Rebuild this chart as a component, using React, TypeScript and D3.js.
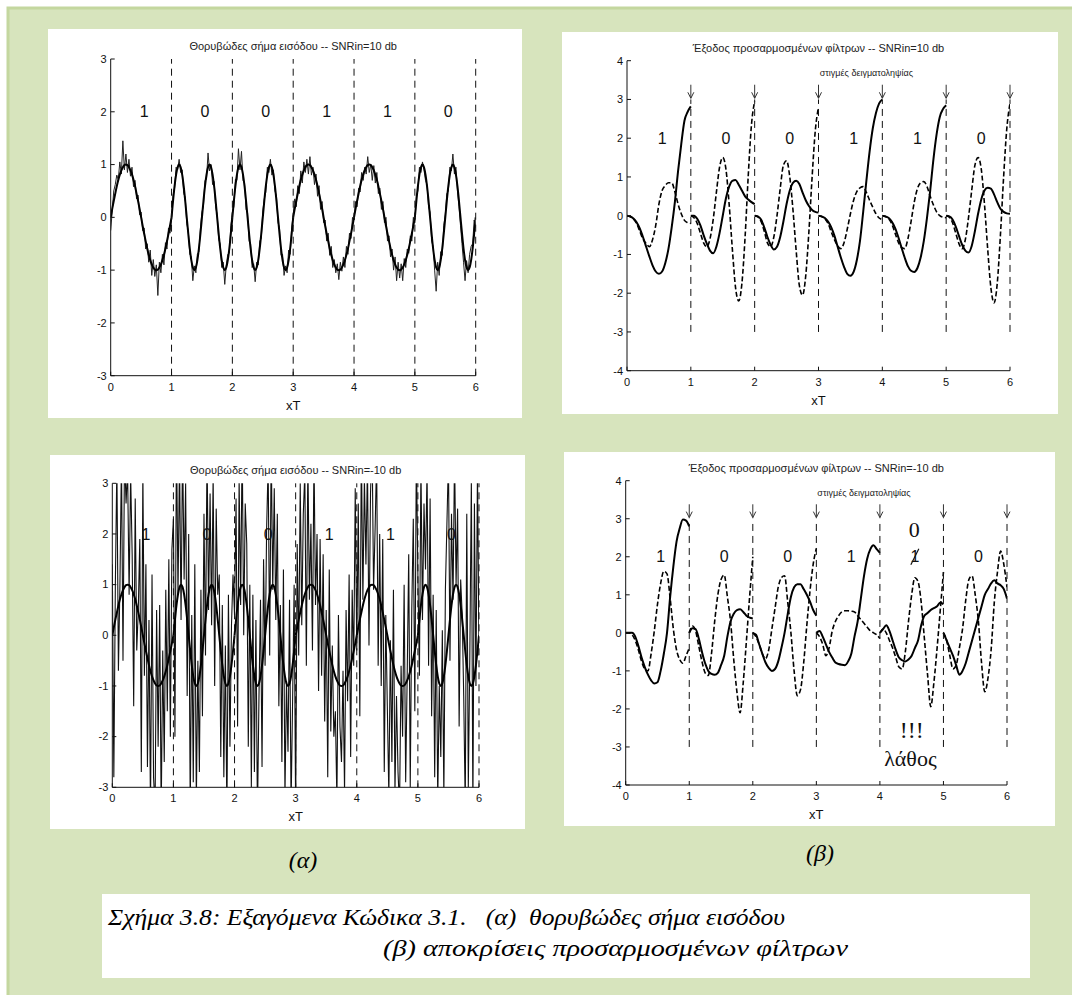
import React from 'react'
import * as d3 from 'd3'

// transmitted bits and axis ticks
const bits = [1, 0, 0, 1, 1, 0]
const xTicks = [0, 1, 2, 3, 4, 5, 6]
const ticks3 = [-3, -2, -1, 0, 1, 2, 3]
const ticks4 = [-4, -3, -2, -1, 0, 1, 2, 3, 4]
const boundaries = [1, 2, 3, 4, 5, 6]

// one clean symbol, 40 samples per T (plus end point)
const symbolOne = [0, .16, .31, .45, .59, .71, .81, .89, .95, .99, 1, .99, .95, .89, .81, .71, .59, .45, .31, .16,
  0, -.16, -.31, -.45, -.59, -.71, -.81, -.89, -.95, -.99, -1, -.99, -.95, -.89, -.81, -.71, -.59, -.45, -.31, -.16, 0]
const symbolZero = [0, .31, .59, .81, .95, 1, .95, .81, .59, .31, 0, -.31, -.59, -.81, -.95, -1, -.95, -.81, -.59, -.31,
  0, .31, .59, .81, .95, 1, .95, .81, .59, .31, 0, -.31, -.59, -.81, -.95, -1, -.95, -.81, -.59, -.31, 0]

// noisy input, 40 samples per T
const noisy10 = [
  -0.25, 0.12, 0.5, 0.62, 0.8, 0.72, 1.05, 0.82, 1.45, 0.9, 1.2, 0.85, 1.1, 0.78, 0.95, 0.58, 0.7, 0.35, 0.42, 0.05, 0.1, -0.25, -0.2, -0.6, -0.5, -0.85, -0.62, -1.1, -0.8, -1.12, -0.9, -1.48, -0.85, -1.05, -0.7, -0.9, -0.48, -0.6, -0.2, -0.3,
  -0.05, 0.42, 0.55, 0.95, 0.9, 1.1, 0.85, 0.9, 0.45, 0.38, -0.12, -0.25, -0.7, -0.75, -1.2, -0.92, -1.05, -0.7, -0.65, -0.2, 0.1, 0.22, 0.7, 0.72, 1.22, 0.88, 1.0, 0.62, 0.68, 0.2, 0.05, -0.42, -0.5, -0.95, -0.85, -1.27, -0.9, -0.7, -0.68, -0.15,
  0.1, 0.2, 0.72, 0.7, 1.3, 0.9, 1.25, 0.7, 0.65, 0.15, 0.08, -0.45, -0.5, -0.95, -0.88, -1.22, -0.85, -0.9, -0.45, -0.4, 0.12, 0.35, 0.48, 0.95, 0.85, 1.1, 0.8, 0.9, 0.5, 0.4, -0.1, -0.2, -0.72, -0.7, -1.1, -0.92, -1.05, -0.62, -0.7, -0.2,
  0.05, 0.35, 0.2, 0.6, 0.45, 0.88, 0.65, 1.05, 0.85, 1.1, 0.82, 1.15, 0.8, 0.95, 0.62, 0.82, 0.4, 0.6, 0.15, 0.3, -0.1, -0.05, -0.45, -0.3, -0.72, -0.55, -0.95, -0.8, -1.05, -0.88, -1.18, -0.85, -1.02, -0.75, -0.95, -0.55, -0.7, -0.3, -0.4, 0.0,
  -0.05, 0.3, 0.2, 0.55, 0.48, 0.85, 0.7, 0.95, 0.82, 1.15, 0.85, 1.0, 0.7, 0.98, 0.65, 0.85, 0.45, 0.55, 0.15, 0.3, -0.1, 0.0, -0.45, -0.35, -0.75, -0.6, -1.0, -0.75, -1.2, -0.85, -1.15, -0.88, -1.2, -0.78, -0.95, -0.6, -0.68, -0.35, -0.45, 0.0,
  -0.1, 0.42, 0.5, 0.95, 0.85, 1.05, 0.9, 0.7, 0.62, 0.2, 0.1, -0.45, -0.55, -1.0, -1.4, -0.85, -1.1, -0.65, -0.72, -0.15, 0.05, 0.45, 0.5, 0.95, 0.88, 1.2, 0.82, 0.95, 0.5, 0.2, -0.15, -0.5, -0.85, -1.2, -0.82, -1.05, -0.7, -0.55, -0.5, -0.05, -0.2,
]
const noisyM10 = [
  1.4, -2.8, 1.0, 3.4, -0.7, 1.0, 3.5, -0.5, 3.6, 2.6, 3.3, 0.8, 3.2, 1.6, -1.4, 2.7, -0.3, 0.5, 1.9, -2.7, 3.3, -0.8, 1.4, -2.6, 0.3, -3.5, 1.2, -2.8, -3.4, 0.5, -2.2, 0.6, -3.6, -0.3, -2.5, 0.9, -1.5, 1.5, -2.0, 1.7,
  2.3, -2.0, 4.0, 0.8, 3.5, 0.3, 3.8, 1.1, 3.0, -1.2, 2.0, -3.5, 0.4, -2.9, 1.4, -3.3, -0.5, -2.7, 0.9, -1.6, 2.4, -0.4, 3.7, 0.5, 2.8, 0.2, 3.2, -1.0, 2.5, 0.8, 1.2, -2.4, 0.6, -2.8, -0.2, -3.6, 0.8, -2.2, 0.2, 1.2,
  0.4, 2.7, -1.8, 3.1, 0.6, 3.9, 0.0, 2.6, 1.8, -2.2, 1.0, -3.0, 0.8, -2.7, 0.3, -3.6, -1.2, 0.7, -2.6, 1.5, -0.6, 2.1, 3.4, -0.4, 3.8, 0.9, 2.9, 0.3, 2.4, -1.4, 0.6, -2.5, 1.3, -3.2, -0.9, -2.3, 0.7, -3.4, -1.3, 1.0,
  -3.5, 1.8, -0.4, 3.0, 0.2, 2.4, 3.2, -0.6, 3.5, 0.7, 2.2, -0.3, 3.6, 0.6, 2.0, -1.1, 1.9, -0.8, 1.6, -1.7, 0.5, -2.8, 1.3, -1.9, -0.2, -2.0, -1.5, -3.3, 0.4, -1.8, -2.5, -0.7, -3.1, 0.5, -1.3, 1.2, -2.4, 0.9, -0.6, 2.9,
  -0.3, 2.6, -1.6, 3.8, 0.7, 3.1, 1.4, 3.4, -0.2, 2.8, 3.9, 0.9, 2.1, 3.5, -0.6, 2.0, -1.0, 1.9, -2.7, 0.4, -1.4, -3.2, -0.1, -2.5, 0.9, -3.1, -1.2, -2.7, -3.4, -0.6, -2.0, 1.0, -2.9, -0.8, 1.6, -3.0, 0.5, 2.3, -1.5, 3.7,
  1.2, -0.8, 3.4, 0.3, 2.6, 1.3, 3.3, -0.6, 2.7, -1.6, 0.8, -2.8, 0.5, -3.3, -1.0, -2.4, 0.1, -3.2, 0.9, 2.2, 3.5, -0.5, 2.4, 0.7, 3.6, 1.0, 2.5, -1.8, 1.1, 0.4, -1.2, -3.4, 2.4, -3.0, -0.4, 3.1, -3.5, 2.6, -1.0, 3.3, -0.4,
]

// matched filter outputs, one row per symbol, 20 samples per T (plus end point)
const mf10One = [
  [0, -0.02, -0.07, -0.17, -0.33, -0.55, -0.8, -1.05, -1.28, -1.44, -1.5, -1.44, -1.22, -0.85, -0.3, 0.35, 1.15, 1.85, 2.45, 2.68, 2.82],
  [0, 0, -0.08, -0.25, -0.5, -0.72, -0.9, -0.97, -0.8, -0.45, 0, 0.45, 0.75, 0.9, 0.92, 0.8, 0.65, 0.5, 0.42, 0.35, 0.3],
  [0, -0.02, -0.1, -0.3, -0.55, -0.75, -0.87, -0.8, -0.55, -0.15, 0.3, 0.65, 0.85, 0.9, 0.82, 0.6, 0.4, 0.25, 0.15, 0.1, 0.08],
  [0, -0.02, -0.06, -0.15, -0.3, -0.52, -0.8, -1.08, -1.32, -1.5, -1.55, -1.45, -1.15, -0.65, 0.1, 0.9, 1.65, 2.25, 2.65, 2.9, 3.0],
  [0, -0.02, -0.06, -0.16, -0.32, -0.55, -0.82, -1.08, -1.3, -1.42, -1.45, -1.35, -1.08, -0.65, -0.05, 0.65, 1.45, 2.1, 2.55, 2.75, 2.85],
  [0, -0.02, -0.1, -0.28, -0.52, -0.75, -0.9, -0.95, -0.78, -0.4, 0.05, 0.42, 0.65, 0.72, 0.7, 0.55, 0.35, 0.18, 0.1, 0.06, 0.05],
]
const mf10Zero = [
  [0, -0.02, -0.08, -0.2, -0.4, -0.6, -0.72, -0.8, -0.62, -0.25, 0.3, 0.65, 0.78, 0.85, 0.85, 0.62, 0.3, 0.05, -0.12, -0.18, -0.2],
  [0, -0.05, -0.2, -0.45, -0.7, -0.8, -0.6, -0.1, 0.6, 1.25, 1.5, 1.2, 0.3, -0.85, -1.85, -2.2, -1.75, -0.55, 1.05, 2.35, 2.95],
  [0, -0.03, -0.15, -0.4, -0.7, -0.8, -0.55, 0, 0.7, 1.3, 1.42, 1.0, 0.15, -0.9, -1.8, -2.05, -1.55, -0.4, 1.0, 2.2, 2.8],
  [0, -0.02, -0.08, -0.2, -0.42, -0.62, -0.78, -0.85, -0.7, -0.35, 0.05, 0.4, 0.62, 0.72, 0.75, 0.6, 0.4, 0.22, 0.05, -0.06, -0.1],
  [0, -0.02, -0.08, -0.22, -0.45, -0.68, -0.82, -0.85, -0.6, -0.15, 0.35, 0.7, 0.85, 0.88, 0.75, 0.5, 0.28, 0.1, 0, -0.04, -0.05],
  [0, -0.04, -0.18, -0.45, -0.72, -0.85, -0.62, -0.05, 0.65, 1.3, 1.5, 1.2, 0.3, -0.85, -1.85, -2.25, -1.75, -0.5, 1.0, 2.25, 2.9],
]
const mfM10One = [
  [0, 0, 0, -0.1, -0.35, -0.65, -0.9, -1.1, -1.25, -1.33, -1.3, -1.0, -0.55, 0, 0.95, 1.75, 2.4, 2.75, 2.98, 2.95, 2.8],
  [0, 0.12, 0.1, -0.15, -0.5, -0.8, -1.0, -1.08, -1.1, -1.05, -0.85, -0.6, -0.1, 0.3, 0.5, 0.6, 0.62, 0.55, 0.45, 0.4, 0.38],
  [0, -0.05, -0.3, -0.55, -0.78, -0.92, -1.0, -0.95, -0.75, -0.4, 0, 0.5, 0.95, 1.2, 1.28, 1.28, 1.15, 1.0, 0.82, 0.6, 0.45],
  [0, 0.05, -0.1, -0.3, -0.5, -0.65, -0.78, -0.82, -0.84, -0.85, -0.75, -0.55, -0.1, 0.3, 0.9, 1.5, 1.95, 2.2, 2.3, 2.2, 2.1],
  [0, 0.1, 0.2, 0.05, -0.2, -0.45, -0.65, -0.72, -0.75, -0.7, -0.6, -0.4, -0.2, 0.2, 0.45, 0.52, 0.6, 0.65, 0.7, 0.8, 0.75],
  [0, -0.2, -0.4, -0.6, -0.85, -1.1, -1.0, -0.8, -0.5, -0.2, 0.1, 0.4, 0.7, 1.0, 1.15, 1.3, 1.38, 1.3, 1.25, 1.15, 0.9],
]
const mfM10Zero = [
  [0, 0, -0.05, -0.2, -0.45, -0.75, -0.95, -1.0, -0.55, 0.05, 0.75, 1.3, 1.62, 1.55, 0.9, 0.1, -0.45, -0.7, -0.8, -0.6, -0.4],
  [0, 0.18, 0.05, -0.35, -0.75, -1.05, -1.12, -0.55, 0.3, 1.0, 1.4, 1.52, 0.95, 0.3, -0.7, -1.55, -2.1, -1.3, -0.2, 0.95, 2.0],
  [0, -0.1, -0.3, -0.55, -0.68, -0.45, 0.1, 0.65, 1.2, 1.45, 1.5, 0.8, 0, -1.0, -1.65, -1.5, -0.8, 0.2, 1.1, 1.8, 2.22],
  [0, -0.1, -0.3, -0.6, -0.4, 0.05, 0.3, 0.45, 0.55, 0.58, 0.58, 0.57, 0.55, 0.45, 0.35, 0.25, 0.15, 0.05, 0, -0.05, -0.15],
  [0, 0.1, 0, -0.2, -0.4, -0.65, -0.9, -0.95, -0.5, 0.3, 1.0, 1.45, 1.35, 0.8, -0.15, -1.1, -1.94, -1.3, -0.4, 0.6, 1.6],
  [0, -0.2, -0.6, -0.95, -0.85, -0.4, 0.1, 0.85, 1.4, 1.5, 1.0, 0.3, -0.8, -1.55, -1.2, -0.45, 0.8, 1.6, 2.15, 1.8, 1.2],
]

const SANS = "'Liberation Sans', Arial, sans-serif"
const SERIF = "'Liberation Serif', 'Times New Roman', serif"
const GREEN = '#d7e4bd'

type Layout = { box: number[]; left: number; right: number; top: number; bottom: number; yMax: number }
const L1: Layout = { box: [48, 29, 474, 389], left: 110.7, right: 475.7, top: 59, bottom: 375.7, yMax: 3 }
const L2: Layout = { box: [562, 32, 496, 382], left: 627, right: 1010, top: 60.7, bottom: 370.7, yMax: 4 }
const L3: Layout = { box: [50, 455, 475, 374], left: 112.3, right: 479, top: 483.3, bottom: 787.3, yMax: 3 }
const L4: Layout = { box: [564, 452, 491, 374], left: 625.7, right: 1007, top: 480.7, bottom: 785, yMax: 4 }

type Sc = d3.ScaleLinear<number, number>
type Pt = [number, number]

const toPoints = (vals: number[], start: number, rate: number): Pt[] =>
  vals.map((v, k) => [start + k / rate, v])

const linePath = (x: Sc, y: Sc, pts: Pt[], curve: d3.CurveFactory = d3.curveLinear) =>
  d3.line<Pt>().x(d => x(d[0])).y(d => y(d[1])).curve(curve)(pts) || ''

function Axes({ L, id, title, yTicks, data, overlay }: {
  L: Layout; id: string; title: string; yTicks: number[]
  data: (x: Sc, y: Sc) => React.ReactNode; overlay: (x: Sc, y: Sc) => React.ReactNode
}) {
  const x = d3.scaleLinear().domain([0, 6]).range([L.left, L.right])
  const y = d3.scaleLinear().domain([-L.yMax, L.yMax]).range([L.bottom, L.top])
  const mid = (L.left + L.right) / 2
  return (
    <g fontFamily={SANS}>
      <rect x={L.box[0]} y={L.box[1]} width={L.box[2]} height={L.box[3]} fill="#fff" />
      <clipPath id={id}>
        <rect x={L.left} y={L.top} width={L.right - L.left} height={L.bottom - L.top} />
      </clipPath>
      <text x={mid} y={L.top - 9} textAnchor="middle" fontSize={11} fill="#222" style={{ whiteSpace: 'pre' }}>{title}</text>
      <g clipPath={`url(#${id})`}>{data(x, y)}</g>
      {overlay(x, y)}
      <path d={`M${L.left},${L.top}V${L.bottom}H${L.right}`} fill="none" stroke="#111" strokeWidth={1} />
      {yTicks.map(t => (
        <g key={'y' + t}>
          <line x1={L.left} x2={L.left + 4} y1={y(t)} y2={y(t)} stroke="#111" />
          <text x={L.left - 4} y={y(t)} dy="0.35em" textAnchor="end" fontSize={11} fill="#111">{t}</text>
        </g>
      ))}
      {xTicks.map(t => (
        <g key={'x' + t}>
          <line x1={x(t)} x2={x(t)} y1={L.bottom} y2={L.bottom - 4} stroke="#111" />
          <text x={x(t)} y={L.bottom + 15} textAnchor="middle" fontSize={11} fill="#111">{t}</text>
        </g>
      ))}
      <text x={mid} y={L.bottom + 34} textAnchor="middle" fontSize={13} fill="#111">xT</text>
    </g>
  )
}

const bitText = (x: Sc, y: Sc, skip?: number) =>
  bits.map((b, i) => i === skip ? null : (
    <text key={'b' + i} x={x(i + 0.55)} y={y(2)} dy="0.35em" textAnchor="middle" fontSize={16} fill="#111">{b}</text>
  ))

const boundaryLines = (x: Sc, y: Sc, top: number) =>
  boundaries.map(b => (
    <line key={'v' + b} x1={x(b)} x2={x(b)} y1={y(-3)} y2={y(top)} stroke="#111" strokeWidth={1} strokeDasharray="7,5" />
  ))

const cleanPaths = (x: Sc, y: Sc) =>
  bits.map((b, i) => (
    <path key={'c' + i} d={linePath(x, y, toPoints(b ? symbolOne : symbolZero, i, 40), d3.curveMonotoneX)}
      fill="none" stroke="#000" strokeWidth={2} />
  ))

const arrows = (x: Sc, y: Sc) =>
  boundaries.map(b => {
    const tip = y(3.03)
    return (
      <path key={'a' + b} d={`M${x(b)},${y(3.38)}V${tip}M${x(b) - 3},${tip - 6}L${x(b)},${tip}L${x(b) + 3},${tip - 6}`}
        fill="none" stroke="#333" strokeWidth={1} />
    )
  })

function filterPaths(x: Sc, y: Sc, one: number[][], zero: number[][]) {
  return bits.map((_, i) => (
    <g key={'f' + i}>
      <path d={linePath(x, y, toPoints(zero[i], i, 20), d3.curveMonotoneX)} fill="none" stroke="#000"
        strokeWidth={1.6} strokeDasharray="5,2.5" />
      <path d={linePath(x, y, toPoints(one[i], i, 20), d3.curveMonotoneX)} fill="none" stroke="#000" strokeWidth={2} />
    </g>
  ))
}

export default function App() {
  return (
    <svg width={1072} height={995} style={{ position: 'absolute', left: 0, top: 0 }}>
      <rect width={1072} height={995} fill="#fff" />
      <rect x={8} y={8} width={1070} height={995} fill={GREEN} stroke="#c4d79f" strokeWidth={3} />

      <Axes L={L1} id="c1" title="Θορυβώδες σήμα εισόδου -- SNRin=10 db" yTicks={ticks3}
        data={(x, y) => (
          <g>
            <path d={linePath(x, y, toPoints(noisy10, 0, 40))} fill="none" stroke="#222" strokeWidth={1} />
            {cleanPaths(x, y)}
          </g>
        )}
        overlay={(x, y) => <g>{boundaryLines(x, y, 3)}{bitText(x, y)}</g>} />

      <Axes L={L3} id="c3" title="Θορυβώδες σήμα εισόδου -- SNRin=-10 db" yTicks={ticks3}
        data={(x, y) => (
          <g>
            {bitText(x, y)}
            <path d={linePath(x, y, toPoints(noisyM10, 0, 40))} fill="none" stroke="#111" strokeWidth={1.1} />
            {cleanPaths(x, y)}
          </g>
        )}
        overlay={(x, y) => <g>{boundaryLines(x, y, 3)}</g>} />

      <Axes L={L2} id="c2" title="Έξοδος προσαρμοσμένων φίλτρων -- SNRin=10 db" yTicks={ticks4}
        data={(x, y) => filterPaths(x, y, mf10One, mf10Zero)}
        overlay={(x, y) => (
          <g>
            {boundaryLines(x, y, 3)}
            {arrows(x, y)}
            {bitText(x, y)}
            <text x={x(3.75)} y={y(3.6)} textAnchor="middle" fontSize={9} fill="#222">στιγμές δειγματοληψίας</text>
          </g>
        )} />

      <Axes L={L4} id="c4" title="Έξοδος προσαρμοσμένων φίλτρων -- SNRin=-10 db" yTicks={ticks4}
        data={(x, y) => filterPaths(x, y, mfM10One, mfM10Zero)}
        overlay={(x, y) => (
          <g>
            {boundaryLines(x, y, 3)}
            {arrows(x, y)}
            {bitText(x, y)}
            <text x={x(3.75)} y={y(3.6)} textAnchor="middle" fontSize={9} fill="#222">στιγμές δειγματοληψίας</text>
            <line x1={x(4.55) - 4} y1={y(2) + 8} x2={x(4.55) + 4} y2={y(2) - 8} stroke="#111" strokeWidth={1.2} />
            <text x={x(4.54)} y={y(2.73)} dy="0.35em" textAnchor="middle" fontSize={22} fontFamily={SERIF} fill="#111">0</text>
            <text x={x(4.5)} y={y(-2.55)} dy="0.35em" textAnchor="middle" fontSize={24} fontFamily={SERIF} fill="#111">!!!</text>
            <text x={x(4.48)} y={y(-3.29)} dy="0.35em" textAnchor="middle" fontSize={22} fontFamily={SERIF} fill="#111">λάθος</text>
          </g>
        )} />

      <g fontFamily={SERIF} fontStyle="italic" fill="#000">
        <text x={303} y={868} textAnchor="middle" fontSize={24}>(α)</text>
        <text x={820} y={861} textAnchor="middle" fontSize={24}>(β)</text>
        <rect x={102} y={894} width={928} height={84} fill="#fff" />
        <text x={108} y={925} fontSize={23} textLength={677} lengthAdjust="spacingAndGlyphs"
          style={{ whiteSpace: 'pre' }}>Σχήμα 3.8: Εξαγόμενα Κώδικα 3.1.   (α)  θορυβώδες σήμα εισόδου</text>
        <text x={383} y={956} fontSize={23} textLength={465} lengthAdjust="spacingAndGlyphs"
          style={{ whiteSpace: 'pre' }}>(β) αποκρίσεις προσαρμοσμένων φίλτρων</text>
      </g>
    </svg>
  )
}
